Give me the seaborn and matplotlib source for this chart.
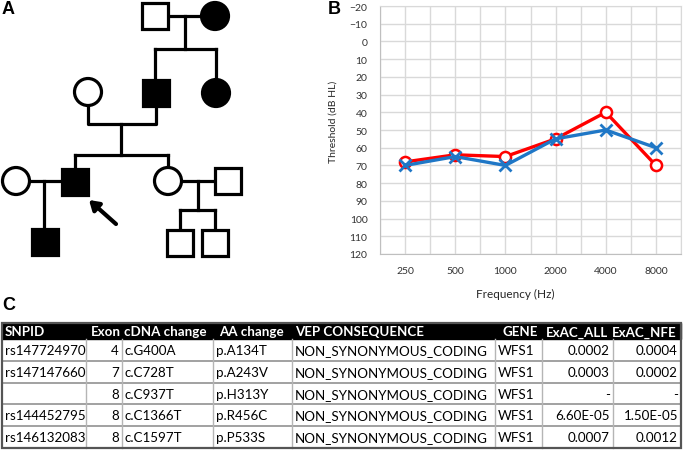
import numpy as np
import pandas as pd
import matplotlib
matplotlib.use('Agg')
import matplotlib.pyplot as plt
from matplotlib.patches import Circle, Rectangle
import seaborn as sns

# ---- data ----
freqs = ['250', '500', '1000', '2000', '4000', '8000']
red_ear = [68, 64, 65, 55, 40, 70]
blue_ear = [70, 65, 70, 55, 50, 60]
y_ticks = list(range(-20, 121, 10))

columns = ['SNPID', 'Exon', 'cDNA change', 'AA change', 'VEP CONSEQUENCE', 'GENE', 'ExAC_ALL', 'ExAC_NFE']
snpid = ['rs147724970', 'rs147147660', '', 'rs144452795', 'rs146132083']
exon = ['4', '7', '8', '8', '8']
cdna = ['c.G400A', 'c.C728T', 'c.C937T', 'c.C1366T', 'c.C1597T']
aa_change = ['p.A134T', 'p.A243V', 'p.H313Y', 'p.R456C', 'p.P533S']
vep = ['NON_SYNONYMOUS_CODING'] * 5
gene = ['WFS1'] * 5
exac_all = ['0.0002', '0.0003', '-', '6.60E-05', '0.0007']
exac_nfe = ['0.0004', '0.0002', '-', '1.50E-05', '0.0012']

# pedigree: sex (m/f) and affected status
ped_sex = ['m', 'f', 'f', 'm', 'f', 'f', 'm', 'f', 'm', 'm', 'm', 'm']
ped_affected = [0, 1, 0, 1, 1, 0, 1, 0, 0, 1, 0, 0]

# ---- layout (pixel coords) ----
ped_pos = [(155, 17), (215, 17), (88, 93), (156, 94), (216, 94), (16, 182),
           (75, 183), (168, 182), (228, 182), (45, 243), (180, 244), (215, 244)]
ped_lines = [
    [(168, 17), (201, 17)], [(185, 17), (185, 50)], [(155, 50), (216, 50)],
    [(155, 50), (155, 80)], [(216, 50), (216, 80)],
    [(88, 106), (88, 125), (156, 125), (156, 108)], [(121, 125), (121, 156)],
    [(75, 156), (168, 156)], [(75, 156), (75, 169)], [(168, 156), (168, 169)],
    [(29, 182), (62, 182)], [(44, 182), (44, 229)],
    [(181, 182), (215, 182)], [(198, 182), (198, 211)], [(180, 211), (215, 211)],
    [(180, 211), (180, 231)], [(215, 211), (215, 231)],
]
col_edges = [2, 86, 122, 213, 292, 495, 542, 613, 681]
body_align = ['left', 'right', 'left', 'left', 'left', 'left', 'right', 'right']
head_x = [5, 121, 124, 219, 295, 503, 608, 677]
head_align = ['left', 'right', 'left', 'left', 'left', 'left', 'right', 'right']
row_edges = [324, 340, 362, 384, 405, 427, 449]

W, H = 685, 452
fig = plt.figure(figsize=(W / 100, H / 100), dpi=100)
plt.rcParams['font.family'] = ['Lato', 'DejaVu Sans']

# overlay axes in pixel coordinates
ax = fig.add_axes([0, 0, 1, 1])
ax.set_xlim(0, W)
ax.set_ylim(H, 0)
ax.axis('off')

lw = 2.3
side = 26
for sex, aff, (x, y) in zip(ped_sex, ped_affected, ped_pos):
    fc = 'black' if aff else 'white'
    if sex == 'm':
        p = Rectangle((x - side / 2, y - side / 2), side, side, fc=fc, ec='black', lw=lw, zorder=3)
    else:
        p = Circle((x, y), 13.5, fc=fc, ec='black', lw=lw, zorder=3)
    ax.add_patch(p)
for seg in ped_lines:
    xs, ys = zip(*seg)
    ax.plot(xs, ys, color='black', lw=lw, solid_capstyle='projecting', zorder=2)
ax.annotate('', xy=(89, 201), xytext=(116, 225),
            arrowprops=dict(arrowstyle='-|>,head_length=0.55,head_width=0.35',
                            lw=3, color='black', shrinkA=0, shrinkB=0))

for lab, (x, y) in zip(['A', 'B', 'C'], [(2, 10), (328, 10), (2, 306)]):
    ax.text(x, y, lab, fontsize=13, fontweight='bold', family='Liberation Sans',
            ha='left', va='center')

# ---- table ----
rows = list(zip(snpid, exon, cdna, aa_change, vep, gene, exac_all, exac_nfe))
ax.add_patch(Rectangle((col_edges[0], row_edges[0]), col_edges[-1] - col_edges[0],
                       row_edges[1] - row_edges[0], fc='black', ec='black', lw=1, zorder=1))
pad = 3
fs = 9.6
yh = (row_edges[0] + row_edges[1]) / 2 + 0.5
for name, x, al in zip(columns, head_x, head_align):
    ax.text(x, yh, name, color='white', fontsize=9.6, fontweight='bold',
            ha=al, va='center', zorder=4)
for i, row in enumerate(rows):
    yc = (row_edges[i + 1] + row_edges[i + 2]) / 2 + 0.5
    for j, val in enumerate(row):
        if body_align[j] == 'left':
            ax.text(col_edges[j] + pad, yc, val, fontsize=fs, ha='left', va='center', zorder=4)
        else:
            ax.text(col_edges[j + 1] - pad, yc, val, fontsize=fs, ha='right', va='center', zorder=4)
for r in row_edges[2:-1]:
    ax.plot([col_edges[0], col_edges[-1]], [r, r], color='#9a9a9a', lw=1.3, zorder=2)
for c in col_edges[1:-1]:
    ax.plot([c, c], [row_edges[1], row_edges[-1]], color='#b5b5b5', lw=1.0, zorder=2)
ax.add_patch(Rectangle((col_edges[0], row_edges[0]), col_edges[-1] - col_edges[0],
                       row_edges[-1] - row_edges[0], fc='none', ec='#555555', lw=1.6, zorder=3))

# ---- audiogram ----
axb = fig.add_axes([380 / W, 1 - 255 / H, 301 / W, 248 / H])
df = pd.DataFrame({'pos': np.arange(len(freqs)), 'red': red_ear, 'blue': blue_ear})
sns.lineplot(data=df, x='pos', y='red', ax=axb, color='#ff0000', linewidth=2.4,
             marker='o', markersize=8, markerfacecolor='white',
             markeredgecolor='#ff0000', markeredgewidth=1.8, zorder=3)
sns.lineplot(data=df, x='pos', y='blue', ax=axb, color='#1f77c6', linewidth=2.4,
             marker='x', markersize=8.5, markeredgecolor='#1f77c6',
             markeredgewidth=2.0, zorder=4)
axb.set_xlim(-0.5, len(freqs) - 0.5)
axb.set_ylim(120, -20)
axb.set_xticks(np.arange(len(freqs)))
axb.set_xticklabels(freqs)
axb.set_xticks(np.arange(-0.5, len(freqs), 1.0), minor=True)
axb.set_yticks(y_ticks)
axb.grid(True, which='both', axis='x', color='#d9d9d9', lw=1.0)
axb.grid(True, which='major', axis='y', color='#d9d9d9', lw=1.0)
axb.set_axisbelow(True)
axb.tick_params(which='both', length=0, labelsize=7.5, colors='#333333')
axb.tick_params(axis='y', pad=9)
axb.tick_params(axis='x', pad=9)
for s in axb.spines.values():
    s.set_color('#d9d9d9')
axb.spines['left'].set_color('#bfbfbf')
axb.spines['bottom'].set_color('#bfbfbf')
axb.set_xlabel('Frequency (Hz)', fontsize=8.5, color='#262626')
axb.xaxis.set_label_coords(0.449, -0.135)
axb.set_ylabel('Threshold (dB HL)', fontsize=7.5, color='#262626')
axb.yaxis.set_label_coords(-0.14, 0.536)

fig.savefig('out.png', dpi=100)
